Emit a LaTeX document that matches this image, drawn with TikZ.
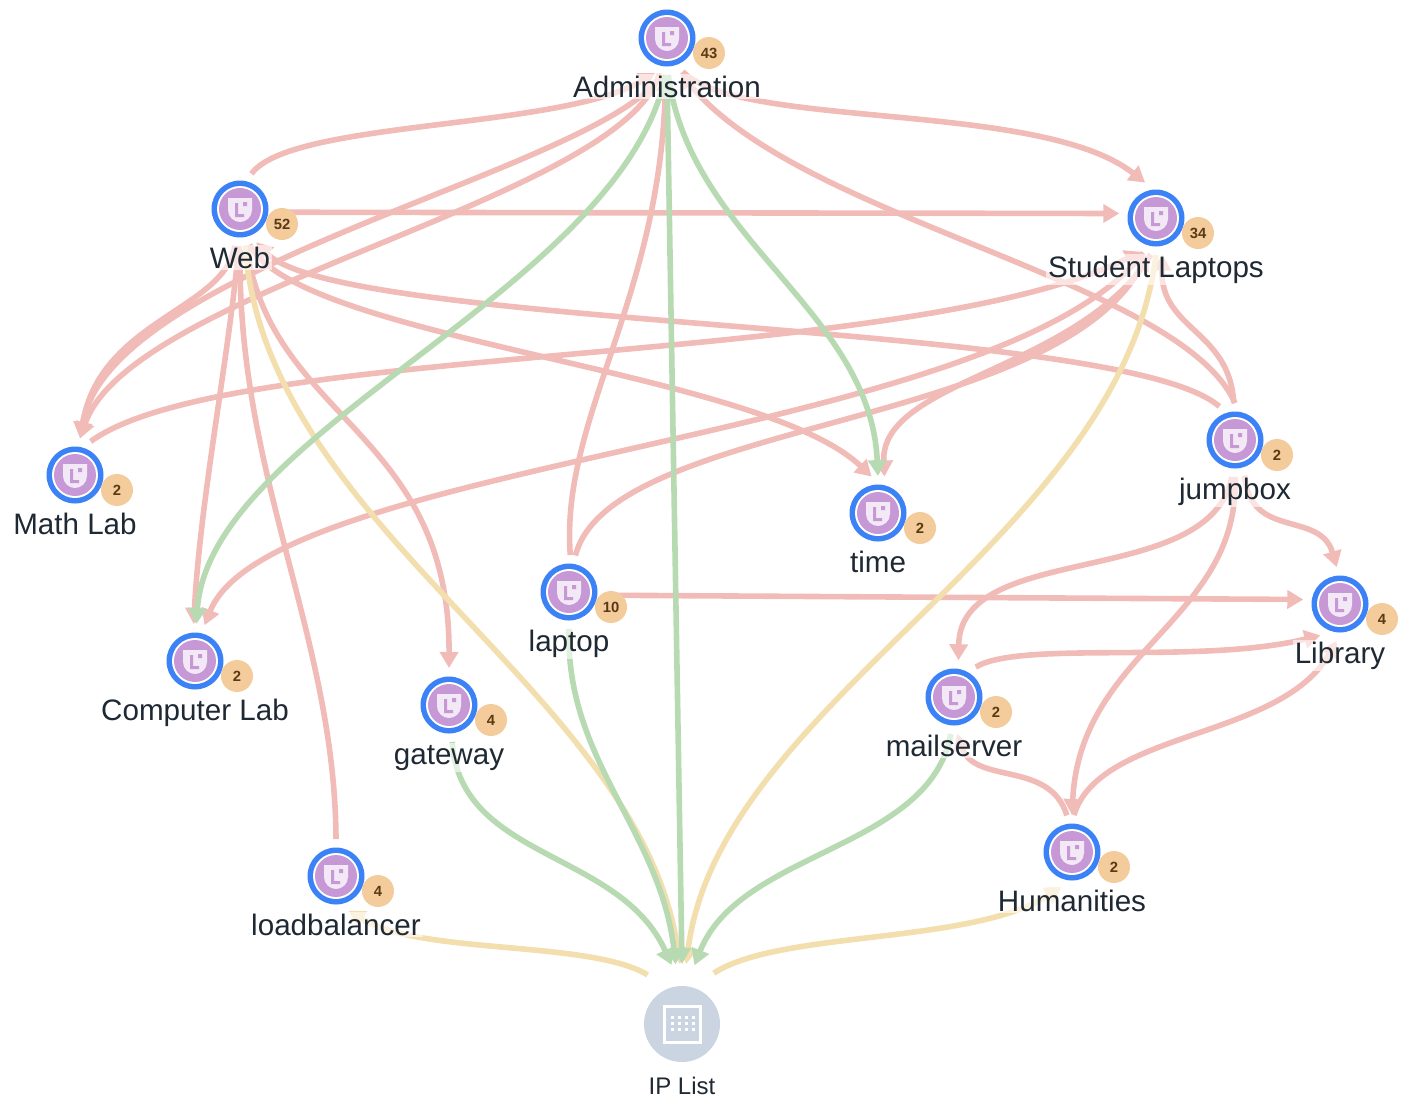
\documentclass[tikz,border=0pt]{standalone}
\usepackage{fontspec}
\setmainfont{Liberation Sans}
\usepackage{tikz}
\usetikzlibrary{arrows.meta, backgrounds}
\definecolor{ringblue}{HTML}{3B82F6}
\definecolor{hostpurple}{HTML}{C698D6}
\definecolor{shieldwhite}{HTML}{F3E8F6}
\definecolor{badgeorange}{HTML}{F4CB9B}
\definecolor{badgetext}{HTML}{5A3A14}
\definecolor{labeltext}{HTML}{1F2933}
\definecolor{listgray}{HTML}{CBD5E1}
\definecolor{linkred}{HTML}{F1BCB8}
\definecolor{linkgreen}{HTML}{B8DAB2}
\definecolor{linkyellow}{HTML}{F3DFAE}
\tikzset{
  hostnode/.style={circle, minimum size=29pt, inner sep=0pt, outer sep=4pt},
  hostlabel/.style={anchor=base, inner sep=1pt, fill=white, fill opacity=0.6, text opacity=1,
    text=labeltext, font=\fontsize{14.8}{17}\selectfont},
  badgenode/.style={circle, minimum size=16pt, inner sep=0pt, fill=badgeorange, text=badgetext,
    font=\fontsize{7.4}{9}\selectfont\bfseries},
  listnode/.style={circle, minimum size=38pt, inner sep=0pt, outer sep=11pt},
  listlabel/.style={anchor=base, inner sep=0pt, text=labeltext, font=\fontsize{12}{14}\selectfont},
  redlink/.style={draw=linkred, line width=2.8pt, -{Triangle[length=8pt,width=9pt]}},
  greenlink/.style={draw=linkgreen, line width=2.8pt, -{Triangle[length=8pt,width=9pt]}},
  yellowlink/.style={draw=linkyellow, line width=2.8pt, -{Triangle[length=8pt,width=9pt]}}
}
\begin{document}
\begin{tikzpicture}[x=0.5pt, y=-0.5pt]
  \useasboundingbox (0,0) rectangle (1409,1105);

  % hosts
  \foreach \name/\px/\py/\lbl/\num in {
    admin/667/38/Administration/43, web/240/209/Web/52, student/1156/218/Student Laptops/34,
    mathlab/75/475/Math Lab/2, timehost/878/513/time/2, jumpbox/1235/440/jumpbox/2,
    laptop/569/592/laptop/10, library/1340/604/Library/4, complab/195/661/Computer Lab/2,
    gateway/449/705/gateway/4, mailserver/954/697/mailserver/2,
    loadbalancer/336/876/loadbalancer/4, humanities/1072/852/Humanities/2} {
    \node[hostnode] (\name) at (\px,\py) {};
    \fill[ringblue] (\px,\py) circle (28.5);
    \fill[white] (\px,\py) circle (23);
    \fill[hostpurple] (\px,\py) circle (21);
    \begin{scope}[shift={(\px,\py)}]
      \fill[shieldwhite] (-12,-11) -- (12,-11) -- (12,1) .. controls (12,8) and (6,13) .. (0,13)
        .. controls (-6,13) and (-12,8) .. (-12,1) -- cycle;
      \fill[hostpurple] (-5,-6) rectangle (-2,8) (-5,5) rectangle (4,8) (3,-7) rectangle (7,-3);
    \end{scope}
    \node[hostlabel] (\name-label) at (\px,\py+59) {\lbl};
    \node[badgenode] (\name-badge) at (\px+42,\py+15) {\num};
  }

  % ip list
  \node[listnode, fill=listgray] (iplist) at (682,1024) {};
  \draw[white, line width=1.5pt] (664,1006) rectangle (700,1042);
  \foreach \dx in {-10,-3,4,11}
    \foreach \dy in {-7,-1,5}
      \fill[white] (682+\dx-1.5,1024+\dy-1.5) rectangle ++(3,3);
  \node[listlabel] (iplist-label) at (682,1094) {IP List};

  \begin{scope}[on background layer]
    % red links
    \draw[redlink] (web.72) .. controls (290,120) and (560,130) .. (admin.251);
    \draw[redlink] (admin.295) .. controls (740,130) and (1040,100) .. (student.107);
    \draw[redlink] (web.355) -- (student.173);
    \draw[redlink] (admin.262) .. controls (600,170) and (110,265) .. (mathlab.82);
    \draw[redlink] (admin.258) .. controls (620,200) and (130,290) .. (mathlab.82);
    \draw[redlink] (web.262) .. controls (225,310) and (100,320) .. (mathlab.82);
    \draw[redlink] (mathlab.65) .. controls (230,340) and (900,370) .. (student.246);
    \draw[redlink] (jumpbox.115) .. controls (1120,320) and (340,330) .. (web.296);
    \draw[redlink] (web.285) .. controls (300,340) and (760,370) .. (timehost.100);
    \draw[redlink] (web.268) .. controls (230,350) and (200,500) .. (complab.92);
    \draw[redlink] (student.250) .. controls (1000,440) and (270,460) .. (complab.75);
    \draw[redlink] (laptop.80) .. controls (610,420) and (1050,430) .. (student.258);
    \draw[redlink] (student.262) .. controls (1080,370) and (880,380) .. (timehost.80);
    \draw[redlink] (jumpbox.92) .. controls (1230,330) and (1160,330) .. (student.280);
    \draw[redlink] (jumpbox.90) .. controls (1180,280) and (800,220) .. (admin.291);
    \draw[redlink] (laptop.88) .. controls (560,420) and (660,300) .. (admin.268);
    \draw[redlink] (loadbalancer.90) .. controls (335,640) and (240,480) .. (web.270);
    \draw[redlink] (web.280) .. controls (270,420) and (450,430) .. (gateway.90);
    \draw[redlink] (jumpbox.285) .. controls (1250,540) and (1320,510) .. (library.95);
    \draw[redlink] (jumpbox.265) .. controls (1210,590) and (960,540) .. (mailserver.83);
    \draw[redlink] (jumpbox.270) .. controls (1240,620) and (1080,650) .. (humanities.90);
    \draw[redlink] (laptop.355) -- (library.173);
    \draw[redlink] (mailserver.54) .. controls (1020,640) and (1200,665) .. (library.238);
    \draw[redlink] (humanities.87) .. controls (1100,730) and (1280,740) .. (library.265);
    \draw[redlink] (humanities.98) .. controls (1050,760) and (975,785) .. (mailserver.275);
    % yellow links
    \draw[yellowlink] (web.278) .. controls (265,530) and (640,690) .. (iplist.92);
    \draw[yellowlink] (student.270) .. controls (1120,540) and (720,700) .. (iplist.86);
    \draw[yellowlink] (iplist.125) .. controls (590,940) and (420,955) .. (loadbalancer.290);
    \draw[yellowlink] (iplist.58) .. controls (780,930) and (970,945) .. (humanities.253);
    % green links
    \draw[greenlink] (admin.268) .. controls (620,290) and (210,430) .. (complab.88);
    \draw[greenlink] (admin.272) .. controls (690,240) and (870,310) .. (timehost.90);
    \draw[greenlink] (admin.270) -- (iplist.90);
    \draw[greenlink] (laptop.270) .. controls (565,760) and (660,830) .. (iplist.96);
    \draw[greenlink] (gateway.275) .. controls (460,860) and (620,850) .. (iplist.100);
    \draw[greenlink] (mailserver.265) .. controls (930,850) and (740,850) .. (iplist.78);
  \end{scope}
\end{tikzpicture}
\end{document}
